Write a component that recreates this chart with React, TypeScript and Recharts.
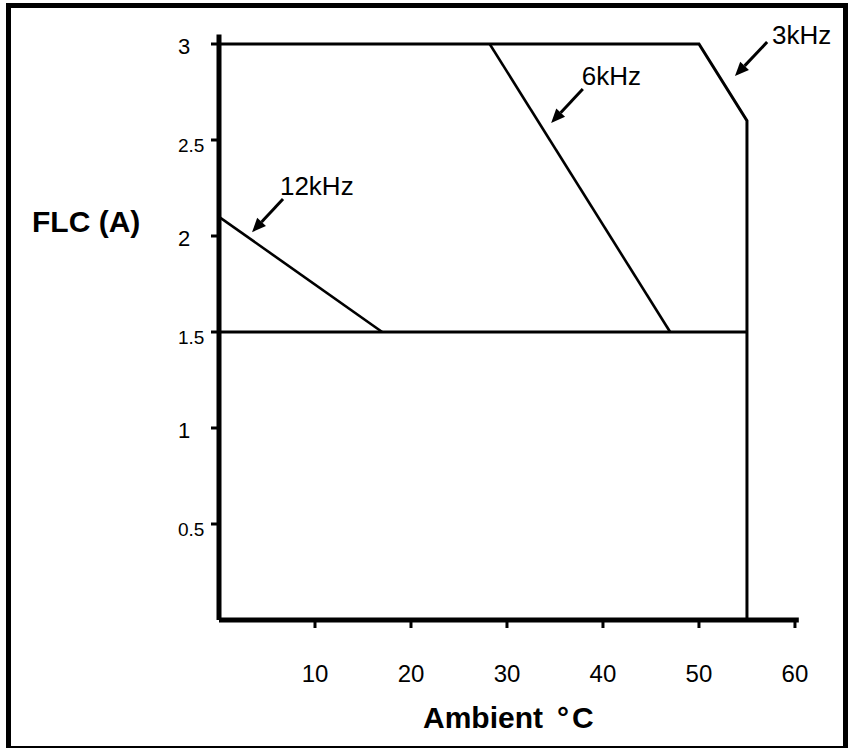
import React from 'react';
import { LineChart, Line, XAxis, YAxis, ReferenceLine, ReferenceDot } from 'recharts';

// Axis ticks
const ambientTicks = [10, 20, 30, 40, 50, 60];
const flcTicks = [0.5, 1, 1.5, 2, 2.5, 3];

// Derating curves (Ambient °C, FLC A)
const limitX = [0, 50, 55, 55];
const limitY = [3, 3, 2.6, 0];
const k6X = [28.2, 47];
const k6Y = [3, 1.5];
const k12X = [0, 17];
const k12Y = [2.1, 1.5];
const floorX = [0, 55];
const floorY = [1.5, 1.5];

// Annotations (data units)
const labelNames = ['12kHz', '6kHz', '3kHz'];
const labelX = [6.35, 37.8, 57.6];
const labelY = [2.214, 2.786, 3.0];
const arrowFromX = [6.67, 37.9, 57.1];
const arrowFromY = [2.193, 2.766, 3.01];
const arrowToX = [3.44, 34.6, 53.75];
const arrowToY = [2.02, 2.589, 2.833];

const zip = (xs: number[], ys: number[]) => xs.map((x, i) => ({ x, y: ys[i] }));

const FONT = '"Liberation Sans", Arial, Helvetica, sans-serif';

const XTick = (props: any) => {
  const { x, y, payload } = props;
  return (
    <text x={x} y={y} dy={52} textAnchor="middle" fontFamily={FONT} fontSize={24} fill="#000">
      {payload.value}
    </text>
  );
};

const YTick = (props: any) => {
  const { x, y, payload } = props;
  const v = payload.value as number;
  const isInt = Number.isInteger(v);
  return (
    <text
      x={x}
      y={y}
      dx={-31}
      dy={isInt ? 10 : 12}
      textAnchor="start"
      fontFamily={FONT}
      fontSize={isInt ? 22 : 19}
      fill="#000"
    >
      {String(v)}
    </text>
  );
};

const Arrow = (props: any) => {
  const { x1, y1, x2, y2 } = props;
  const dx = x2 - x1;
  const dy = y2 - y1;
  const len = Math.sqrt(dx * dx + dy * dy) || 1;
  const ux = dx / len;
  const uy = dy / len;
  const head = 14;
  const half = 6;
  const bx = x2 - ux * head;
  const by = y2 - uy * head;
  const px = -uy * half;
  const py = ux * half;
  return (
    <g>
      <line x1={x1} y1={y1} x2={bx} y2={by} stroke="#000" strokeWidth={3} />
      <polygon points={`${x2},${y2} ${bx + px},${by + py} ${bx - px},${by - py}`} fill="#000" />
    </g>
  );
};

export default function App() {
  return (
    <div style={{ position: 'absolute', left: 0, top: 0, width: 850, height: 748, overflow: 'hidden', background: '#fff' }}>
      <div
        style={{
          position: 'absolute',
          left: 6,
          top: 3,
          width: 842,
          height: 748,
          boxSizing: 'border-box',
          border: '5px solid #000',
        }}
      />
      <div style={{ position: 'absolute', left: 0, top: 0 }}>
        <LineChart width={850} height={748} margin={{ top: 34.4, right: 51.2, bottom: 98, left: 159 }}>
          <XAxis
            type="number"
            dataKey="x"
            domain={[0, 60.4]}
            ticks={ambientTicks}
            tick={<XTick />}
            tickSize={8}
            height={30}
            axisLine={{ stroke: '#000', strokeWidth: 5 }}
            tickLine={{ stroke: '#000', strokeWidth: 3 }}
            allowDataOverflow
          />
          <YAxis
            type="number"
            dataKey="y"
            domain={[0, 3.05]}
            ticks={flcTicks}
            tick={<YTick />}
            tickSize={8}
            width={60}
            axisLine={{ stroke: '#000', strokeWidth: 5 }}
            tickLine={{ stroke: '#000', strokeWidth: 3 }}
            allowDataOverflow
          />
          <Line data={zip(floorX, floorY)} dataKey="y" stroke="#000" strokeWidth={3} dot={false} activeDot={false} isAnimationActive={false} />
          <Line data={zip(limitX, limitY)} dataKey="y" stroke="#000" strokeWidth={3} dot={false} activeDot={false} isAnimationActive={false} />
          <Line data={zip(k6X, k6Y)} dataKey="y" stroke="#000" strokeWidth={2.6} dot={false} activeDot={false} isAnimationActive={false} />
          <Line data={zip(k12X, k12Y)} dataKey="y" stroke="#000" strokeWidth={2.6} dot={false} activeDot={false} isAnimationActive={false} />
          {labelNames.map((name, i) => (
            <ReferenceLine
              key={'arrow-' + name}
              ifOverflow="visible"
              segment={[
                { x: arrowFromX[i], y: arrowFromY[i] },
                { x: arrowToX[i], y: arrowToY[i] },
              ]}
              shape={(p: any) => <Arrow {...p} />}
            />
          ))}
          {labelNames.map((name, i) => (
            <ReferenceDot
              key={'label-' + name}
              x={labelX[i]}
              y={labelY[i]}
              ifOverflow="visible"
              shape={(p: any) => (
                <text x={p.cx} y={p.cy} textAnchor="start" fontFamily={FONT} fontSize={26} fill="#000">
                  {name}
                </text>
              )}
            />
          ))}
        </LineChart>
      </div>
      <svg width={850} height={748} style={{ position: 'absolute', left: 0, top: 0, pointerEvents: 'none' }}>
        <text x={32} y={232} fontFamily={FONT} fontSize={30} fontWeight="bold" fill="#000">
          FLC (A)
        </text>
        <text x={423} y={728} fontFamily={FONT} fontSize={30} fontWeight="bold" fill="#000">
          Ambient
          <tspan x={557}>°</tspan>
          <tspan x={572}>C</tspan>
        </text>
      </svg>
    </div>
  );
}
